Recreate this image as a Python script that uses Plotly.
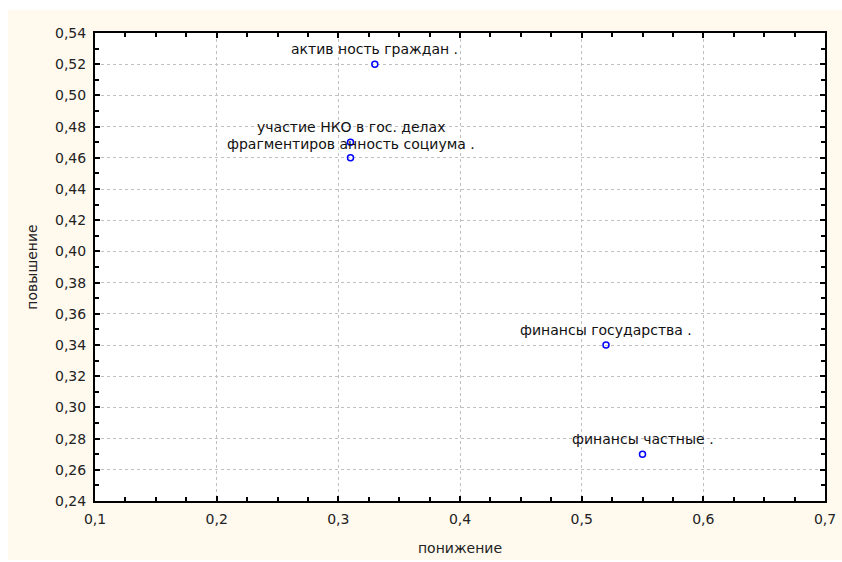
import plotly.graph_objects as go

labels = ["актив ность граждан .", "участие НКО в гос. делах",
          "фрагментиров анность социума .", "финансы государства .",
          "финансы частные ."]
x_vals = [0.33, 0.31, 0.31, 0.52, 0.55]
y_vals = [0.52, 0.47, 0.46, 0.34, 0.27]
label_gap = [6, 6.5, 4.5, 6, 6]   # px between point and its label

W, H = 842, 562
L, R, T, B = 95, 17, 33, 61
pw, ph = W - L - R, H - T - B
FONT = "DejaVu Sans, Verdana, sans-serif"

fig = go.Figure()
fig.add_trace(go.Scatter(
    x=x_vals, y=y_vals, mode="markers",
    marker=dict(symbol="circle-open", size=6, color="#0000ff", line=dict(width=1.5, color="#0000ff")),
    cliponaxis=False, showlegend=False, hoverinfo="skip"))

for xv, yv, txt, g in zip(x_vals, y_vals, labels, label_gap):
    fig.add_annotation(x=xv, y=yv, xref="x", yref="y", text=txt, showarrow=False,
                       xanchor="center", yanchor="bottom", yshift=g, borderpad=0,
                       font=dict(family=FONT, size=14, color="#111"))

def px2paper_x(p):
    return (p - L) / pw

def px2paper_y(p):
    return (H - B - p) / ph

fig.add_shape(type="rect", xref="paper", yref="paper",
              x0=px2paper_x(8), x1=px2paper_x(W), y0=px2paper_y(560), y1=px2paper_y(10),
              fillcolor="#fff9ee", line=dict(width=0), layer="below")
fig.add_shape(type="rect", xref="paper", yref="paper", x0=0, x1=1, y0=0, y1=1,
              fillcolor="white", line=dict(width=0), layer="below")

axis_common = dict(showline=True, linecolor="black", linewidth=2, mirror="ticks",
                   ticks="inside", ticklen=5, tickcolor="black", tickwidth=1.5,
                   showgrid=True, gridcolor="#c0c0c0", griddash="dot", gridwidth=1,
                   zeroline=False, ticklabelstandoff=4,
                   tickfont=dict(family=FONT, size=14, color="#222"))

fig.update_xaxes(range=[0.1, 0.7], dtick=0.1, tick0=0.1, tickformat=".1f",
                 minor=dict(dtick=0.025, tick0=0.1, ticks="inside", ticklen=4, tickcolor="black", showgrid=False),
                 title=dict(text="понижение", font=dict(family=FONT, size=14, color="#222"), standoff=17),
                 **axis_common)
fig.update_yaxes(range=[0.24, 0.54], dtick=0.02, tick0=0.24, tickformat=".2f",
                 minor=dict(dtick=0.01, tick0=0.24, ticks="inside", ticklen=4, tickcolor="black", showgrid=False),
                 title=dict(text="повышение", font=dict(family=FONT, size=14, color="#222"), standoff=14),
                 **axis_common)

fig.update_layout(width=W, height=H, margin=dict(l=L, r=R, t=T, b=B, autoexpand=False),
                  paper_bgcolor="white", plot_bgcolor="white", separators=", ")

fig.write_html("out.html", config={"displayModeBar": False},
               post_script="document.body.style.margin='0';document.body.style.overflow='hidden';")
